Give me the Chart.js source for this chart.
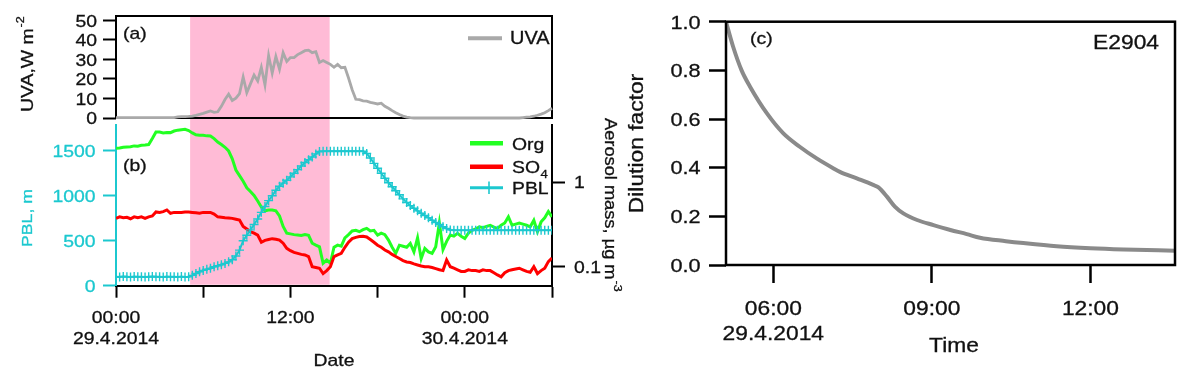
<!DOCTYPE html>
<html><head><meta charset="utf-8">
<script src="https://cdn.jsdelivr.net/npm/chart.js@4.4.1/dist/chart.umd.min.js"></script>
<style>
html,body{margin:0;padding:0;background:#fff;}
#wrap{position:relative;width:1189px;height:379px;overflow:hidden;background:#fff;}
canvas{position:absolute;left:0;top:0;}
</style></head><body>
<div id="wrap">
<canvas id="cA" width="1189" height="379"></canvas>
<canvas id="cB" width="1189" height="379"></canvas>
<canvas id="cC" width="1189" height="379"></canvas>
</div>
<script>
// ---------- DATA ----------
// time in hours since 00:00 29.4.2014 (panels a, b)
const hours = [
  0,0.25,0.5,0.75,1,1.25,1.5,1.75,
  2,2.25,2.5,2.75,3,3.25,3.5,3.75,
  4,4.25,4.5,4.75,5,5.25,5.5,5.75,
  6,6.25,6.5,6.75,7,7.25,7.5,7.75,
  8,8.25,8.5,8.75,9,9.25,9.5,9.75,
  10,10.25,10.5,10.75,11,11.25,11.5,11.75,
  12,12.25,12.5,12.75,13,13.25,13.5,13.75,
  14,14.25,14.5,14.75,15,15.25,15.5,15.75,
  16,16.25,16.5,16.75,17,17.25,17.5,17.75,
  18,18.25,18.5,18.75,19,19.25,19.5,19.75,
  20,20.25,20.5,20.75,21,21.25,21.5,21.75,
  22,22.25,22.5,22.75,23,23.25,23.5,23.75,
  24,24.25,24.5,24.75,25,25.25,25.5,25.75,
  26,26.25,26.5,26.75,27,27.25,27.5,27.75,
  28,28.25,28.5,28.75,29,29.25,29.5,29.75,
  30
];
// UVA, W m-2
const uva = [
  0.2,0.2,0.2,0.2,0.2,0.2,0.2,0.2,
  0.2,0.2,0.2,0.2,0.2,0.2,0.2,0.2,
  0.2,0.6,0.7,0.7,0.8,1.0,1.4,1.9,
  2.4,3.0,3.6,2.9,3.2,6.0,9.5,12.2,
  9.0,10.2,12.5,21.0,13.0,17.5,22.0,19.0,
  26.0,17.0,32.0,23.0,31.5,25.0,33.5,29.0,
  31.0,31.0,32.5,33.5,34.5,34.8,33.5,34.0,
  28.5,29.5,28.5,27.5,26.0,27.5,25.8,26.0,
  20.5,14.5,9.6,9.4,8.8,8.6,8.0,7.6,
  7.2,7.6,6.0,5.0,3.8,2.7,1.8,1.0,
  0.5,0.2,0,0,0,0,0,0,
  0,0,0,0,0,0,0,0,
  0,0,0,0,0,0,0,0,
  0,0,0,0,0,0,0,0,
  0.2,0.4,0.6,0.9,1.4,2.0,2.7,3.8,
  5.0
];
// Organic aerosol mass, ug m-3
const org = [
  2.53,2.55,2.60,2.62,2.64,2.70,2.68,2.75,
  2.77,2.80,3.30,3.95,3.95,3.85,3.90,3.88,
  4.05,4.15,4.20,4.25,4.10,3.85,3.65,3.60,
  3.60,3.55,3.54,3.30,3.00,2.80,2.60,2.35,
  1.90,1.40,1.20,1.03,0.86,0.78,0.70,0.60,
  0.51,0.46,0.47,0.47,0.46,0.40,0.30,0.25,
  0.245,0.24,0.238,0.235,0.24,0.235,0.19,0.18,
  0.172,0.11,0.12,0.11,0.17,0.18,0.175,0.22,
  0.24,0.265,0.27,0.26,0.275,0.285,0.265,0.27,
  0.237,0.25,0.24,0.207,0.17,0.144,0.18,0.175,
  0.17,0.189,0.15,0.22,0.125,0.165,0.15,0.144,
  0.172,0.33,0.16,0.20,0.237,0.23,0.248,0.23,
  0.216,0.25,0.27,0.28,0.297,0.29,0.30,0.31,
  0.295,0.285,0.31,0.33,0.39,0.31,0.32,0.33,
  0.32,0.31,0.297,0.355,0.26,0.34,0.38,0.45,
  0.39
];
// Sulphate aerosol mass, ug m-3
const so4 = [
  0.374,0.39,0.38,0.385,0.37,0.39,0.38,0.39,
  0.374,0.39,0.40,0.446,0.44,0.45,0.47,0.43,
  0.44,0.44,0.44,0.445,0.446,0.44,0.435,0.43,
  0.44,0.44,0.44,0.42,0.39,0.385,0.38,0.378,
  0.374,0.365,0.357,0.30,0.28,0.26,0.25,0.237,
  0.195,0.205,0.21,0.215,0.212,0.207,0.19,0.165,
  0.155,0.148,0.144,0.14,0.138,0.132,0.10,0.098,
  0.096,0.083,0.09,0.10,0.132,0.138,0.144,0.17,
  0.195,0.215,0.223,0.228,0.23,0.225,0.21,0.195,
  0.18,0.17,0.158,0.15,0.14,0.132,0.125,0.118,
  0.114,0.112,0.108,0.105,0.102,0.10,0.10,0.098,
  0.095,0.092,0.09,0.12,0.10,0.096,0.092,0.088,
  0.088,0.092,0.09,0.09,0.088,0.092,0.09,0.09,
  0.085,0.08,0.076,0.085,0.09,0.092,0.094,0.096,
  0.092,0.088,0.086,0.10,0.083,0.09,0.096,0.115,
  0.127
];
// Planetary boundary layer height, m
const pbl = [
  100,98,102,100,97,101,99,100,
  98,100,102,99,100,97,101,99,
  100,98,101,97,100,115,135,155,
  170,182,193,210,222,233,248,265,
  288,330,395,500,560,620,680,742,
  815,880,945,1000,1060,1105,1140,1172,
  1210,1250,1290,1330,1370,1400,1430,1465,
  1492,1495,1495,1495,1495,1495,1495,1495,
  1495,1495,1495,1495,1495,1470,1420,1360,
  1305,1250,1195,1145,1100,1055,1010,965,
  925,890,860,832,806,780,755,728,
  703,680,655,635,620,615,615,615,
  615,615,615,615,615,615,615,615,
  615,615,615,615,615,615,615,615,
  615,615,615,615,615,615,615,615,
  615
];
// shaded period (hours)
const shade = [5.1, 14.7];

// panel (c): dilution factor
const dilTime = [5.105,5.24,5.40,5.56,5.88,6.19,6.5,6.82,7.14,7.26,7.58,7.89,7.99,8.15,8.30,8.46,8.72,9.03,9.35,9.66,9.91,10.4,10.73,11.36,12.0,12.63,13.6];
const dilution = [1.0,0.897,0.80,0.733,0.623,0.541,0.486,0.438,0.397,0.383,0.356,0.329,0.319,0.281,0.240,0.212,0.185,0.164,0.144,0.127,0.112,0.098,0.090,0.077,0.069,0.064,0.059];

// ticks
const uvaTicks = [0,10,20,30,40,50];
const uvaTickLabels = ['0','10','20','30','40','50'];
const pblTicks = [0,500,1000,1500];
const pblTickLabels = ['0','500','1000','1500'];
const massTicks = [0.1,1];
const massTickLabels = ['0.1','1'];
const dateTicks = [0,6,12,18,24,30];
const dateTickLabels = [['00:00','29.4.2014'],[],['12:00'],[],['00:00','30.4.2014'],[]];
const dilTicks = [0,0.2,0.4,0.6,0.8,1.0];
const dilTickLabels = ['0.0','0.2','0.4','0.6','0.8','1.0'];
const timeTicks = [6,9,12];
const timeTickLabels = [['06:00','29.4.2014'],['09:00'],['12:00']];

// ---------- STYLE ----------
const FONT = "'Liberation Sans', Arial, sans-serif";
const SX = 1.14; // horizontal stretch of the lettering
Chart.defaults.font.family = FONT;
Chart.defaults.color = '#000';
const CYAN = '#1cc8cf';
const PINK = '#ffbbd6';
const GREEN = '#22ff22';
const RED = '#ff0000';
const UVAGREY = '#a9a9a9';
const DILGREY = '#8a8a8a';
const INK = '#111';

function pts(xs, ys){ return xs.map((x,i)=>({x:x, y:ys[i]})); }
function fixedTicks(vals){ return function(s){ s.ticks = vals.map(v=>({value:v})); }; }
// text: x,y is the anchor; base defaults to alphabetic
function T(ctx, s, x, y, o){
  o = o || {};
  const size = o.size || 17, sx = o.sx || SX;
  ctx.save();
  ctx.translate(x, y);
  if (o.rot) ctx.rotate(o.rot);
  ctx.scale(sx, 1);
  ctx.font = size + 'px ' + FONT;
  ctx.fillStyle = o.color || INK;
  ctx.strokeStyle = o.color || INK;
  ctx.lineWidth = 0.3;
  ctx.textAlign = o.align || 'left';
  ctx.textBaseline = o.base || 'alphabetic';
  ctx.fillText(s, 0, 0);
  ctx.strokeText(s, 0, 0);
  const w = ctx.measureText(s).width * sx;
  ctx.restore();
  return w;
}
function seg(ctx, x1, y1, x2, y2, color, w){
  ctx.save(); ctx.strokeStyle = color; ctx.lineWidth = w; ctx.lineCap = 'butt';
  ctx.beginPath(); ctx.moveTo(x1,y1); ctx.lineTo(x2,y2); ctx.stroke(); ctx.restore();
}
// y-axis labels centred on tick
function yLabels(ctx, scale, vals, labels, x, align, size, color){
  vals.forEach((v,i)=>{ const y = scale.getPixelForValue(v);
    T(ctx, labels[i], x, y + 0.358*size, {size:size, align:align, color:color}); });
}
// x-axis labels (multi-line)
function xLabels(ctx, scale, vals, labels, base0, step, size){
  vals.forEach((v,i)=>{ const x = scale.getPixelForValue(v);
    labels[i].forEach((ln,k)=>T(ctx, ln, x, base0 + k*step, {size:size, align:'center'})); });
}
const common = {responsive:false, animation:false, devicePixelRatio:1, events:[],
  plugins:{legend:{display:false}, tooltip:{enabled:false}}};

// ---------- PANEL (a) ----------
const panelA = {
  id:'panelA',
  beforeDatasetsDraw(c){
    const ctx = c.ctx, a = c.chartArea, x = c.scales.x;
    const x1 = x.getPixelForValue(shade[0]), x2 = x.getPixelForValue(shade[1]);
    ctx.save(); ctx.fillStyle = PINK; ctx.fillRect(x1, a.top, x2-x1, a.bottom-a.top); ctx.restore();
    ctx.save(); ctx.strokeStyle = '#000'; ctx.lineWidth = 2;
    ctx.strokeRect(a.left, a.top, a.right-a.left, a.bottom-a.top); ctx.restore();
  },
  afterDraw(c){
    const ctx = c.ctx;
    yLabels(ctx, c.scales.y, uvaTicks, uvaTickLabels, 97, 'right', 17, INK);
    T(ctx, '(a)', 123, 38.5, {size:17});
    seg(ctx, 468, 38.3, 502, 38.3, UVAGREY, 4);
    T(ctx, 'UVA', 510, 44, {size:17.5});
    // y title with superscript
    const w = T(ctx, 'UVA,W m', 32.5, 112, {size:17, rot:-Math.PI/2});
    T(ctx, '-2', 32.5 - 9, 112 - w - 1, {size:11, rot:-Math.PI/2});
  }
};
new Chart(document.getElementById('cA'), {
  type:'line',
  data:{datasets:[{data:pts(hours, uva), borderColor:UVAGREY, borderWidth:2.8, pointRadius:0, tension:0, clip:4}]},
  options:Object.assign({}, common, {
    layout:{padding:{left:0, right:637, top:16, bottom:261}},
    scales:{
      x:{type:'linear', min:0, max:30, display:false},
      y:{type:'linear', min:0, max:52.3,
        afterFit:s=>{ s.width = 116; },
        afterBuildTicks:fixedTicks(uvaTicks),
        border:{display:false},
        grid:{drawOnChartArea:false, drawTicks:true, tickLength:13, tickWidth:2, tickColor:'#000'},
        ticks:{display:false}
      }
    }
  }),
  plugins:[panelA]
});

// ---------- PANEL (b) ----------
const panelB = {
  id:'panelB',
  beforeDatasetsDraw(c){
    const ctx = c.ctx, a = c.chartArea, x = c.scales.x;
    const x1 = x.getPixelForValue(shade[0]), x2 = x.getPixelForValue(shade[1]);
    ctx.save(); ctx.fillStyle = PINK; ctx.fillRect(x1, a.top - 6, x2-x1, a.bottom - a.top + 5); ctx.restore();
  },
  afterDraw(c){
    const ctx = c.ctx, a = c.chartArea;
    yLabels(ctx, c.scales.y, pblTicks, pblTickLabels, 95.5, 'right', 17, CYAN);
    yLabels(ctx, c.scales.y1, massTicks, massTickLabels, 574, 'left', 17, INK);
    xLabels(ctx, c.scales.x, dateTicks, dateTickLabels, a.bottom + 37, 21.6, 17);
    T(ctx, '(b)', 123, 171, {size:17});
    // legend
    seg(ctx, 470, 143.3, 503, 143.3, GREEN, 4.5);
    T(ctx, 'Org', 512, 149.5, {size:17});
    seg(ctx, 470, 166.7, 503, 166.7, RED, 4.5);
    const w = T(ctx, 'SO', 512, 173, {size:17});
    T(ctx, '4', 512 + w + 0.5, 177.5, {size:11.5});
    seg(ctx, 470, 187.7, 503, 187.7, CYAN, 3);
    seg(ctx, 489, 181.5, 489, 194, CYAN, 1.6);
    T(ctx, 'PBL', 512, 194, {size:17});
    // left title
    T(ctx, 'PBL, m', 32, 247, {size:15.5, rot:-Math.PI/2, color:CYAN});
    // right title with superscript
    const w2 = T(ctx, 'Aerosol mass, \u00b5g m', 605, 118, {size:16, rot:Math.PI/2});
    T(ctx, '-3', 605 + 9, 118 + w2 + 1, {size:11, rot:Math.PI/2});
    // x title
    T(ctx, 'Date', 334, 366, {size:17, align:'center'});
  }
};
new Chart(document.getElementById('cB'), {
  type:'line',
  data:{datasets:[
    {label:'PBL', data:pts(hours, pbl), yAxisID:'y', borderColor:CYAN, borderWidth:2, pointStyle:'cross',
     pointRadius:4.5, pointBorderColor:CYAN, pointBorderWidth:1.4, pointBackgroundColor:CYAN, tension:0, order:0},
    {label:'SO4', data:pts(hours, so4), yAxisID:'y1', borderColor:RED, borderWidth:3, pointRadius:0, tension:0, order:1},
    {label:'Org', data:pts(hours, org), yAxisID:'y1', borderColor:GREEN, borderWidth:3, pointRadius:0, tension:0, order:2}
  ]},
  options:Object.assign({}, common, {
    layout:{padding:{left:0, right:577, top:125, bottom:33.3}},
    scales:{
      x:{type:'linear', position:'bottom', min:0, max:30,
        afterFit:s=>{ s.height = 60; },
        afterBuildTicks:fixedTicks(dateTicks),
        border:{display:true, color:'#000', width:2},
        grid:{drawOnChartArea:false, drawTicks:true, tickLength:12, tickWidth:2, tickColor:'#000'},
        ticks:{display:false}
      },
      y:{type:'linear', position:'left', min:0, max:1786,
        afterFit:s=>{ s.width = 116; },
        afterBuildTicks:fixedTicks(pblTicks),
        border:{display:true, color:CYAN, width:2},
        grid:{drawOnChartArea:false, drawTicks:true, tickLength:13, tickWidth:2, tickColor:CYAN},
        ticks:{display:false}
      },
      y1:{type:'logarithmic', position:'right', min:0.0596, max:4.775,
        afterFit:s=>{ s.width = 60; },
        afterBuildTicks:fixedTicks(massTicks),
        border:{display:true, color:'#000', width:2},
        grid:{drawOnChartArea:false, drawTicks:true, tickLength:13, tickWidth:2, tickColor:'#000'},
        ticks:{display:false}
      }
    }
  }),
  plugins:[panelB]
});

// ---------- PANEL (c) ----------
const panelC = {
  id:'panelC',
  afterDraw(c){
    const ctx = c.ctx, a = c.chartArea;
    ctx.save(); ctx.strokeStyle = '#000'; ctx.lineWidth = 2.5;
    ctx.strokeRect(a.left, a.top, a.right-a.left, a.bottom-a.top); ctx.restore();
    yLabels(ctx, c.scales.y, dilTicks, dilTickLabels, 700.5, 'right', 19, INK);
    xLabels(ctx, c.scales.x, timeTicks, timeTickLabels, a.bottom + 50, 25, 20);
    T(ctx, '(c)', 750, 43.5, {size:17});
    T(ctx, 'E2904', 1159, 48.5, {size:20, align:'right'});
    T(ctx, 'Dilution factor', 643, 143.5, {size:20, align:'center', rot:-Math.PI/2});
    T(ctx, 'Time', 954, 352, {size:20, align:'center'});
  }
};
new Chart(document.getElementById('cC'), {
  type:'line',
  data:{datasets:[{data:pts(dilTime, dilution), borderColor:DILGREY, borderWidth:4, pointRadius:0, cubicInterpolationMode:'monotone'}]},
  options:Object.assign({}, common, {
    layout:{padding:{left:626, right:14, top:21.7, bottom:34}},
    scales:{
      x:{type:'linear', min:5.105, max:13.6,
        afterFit:s=>{ s.height = 80; },
        afterBuildTicks:fixedTicks(timeTicks),
        border:{display:false},
        grid:{drawOnChartArea:false, drawTicks:true, tickLength:18, tickWidth:2.5, tickColor:'#000'},
        ticks:{display:false}
      },
      y:{type:'linear', min:0, max:1,
        afterFit:s=>{ s.width = 100; },
        afterBuildTicks:fixedTicks(dilTicks),
        border:{display:false},
        grid:{drawOnChartArea:false, drawTicks:true, tickLength:17, tickWidth:2.5, tickColor:'#000'},
        ticks:{display:false}
      }
    }
  }),
  plugins:[panelC]
});
</script>
</body></html>
